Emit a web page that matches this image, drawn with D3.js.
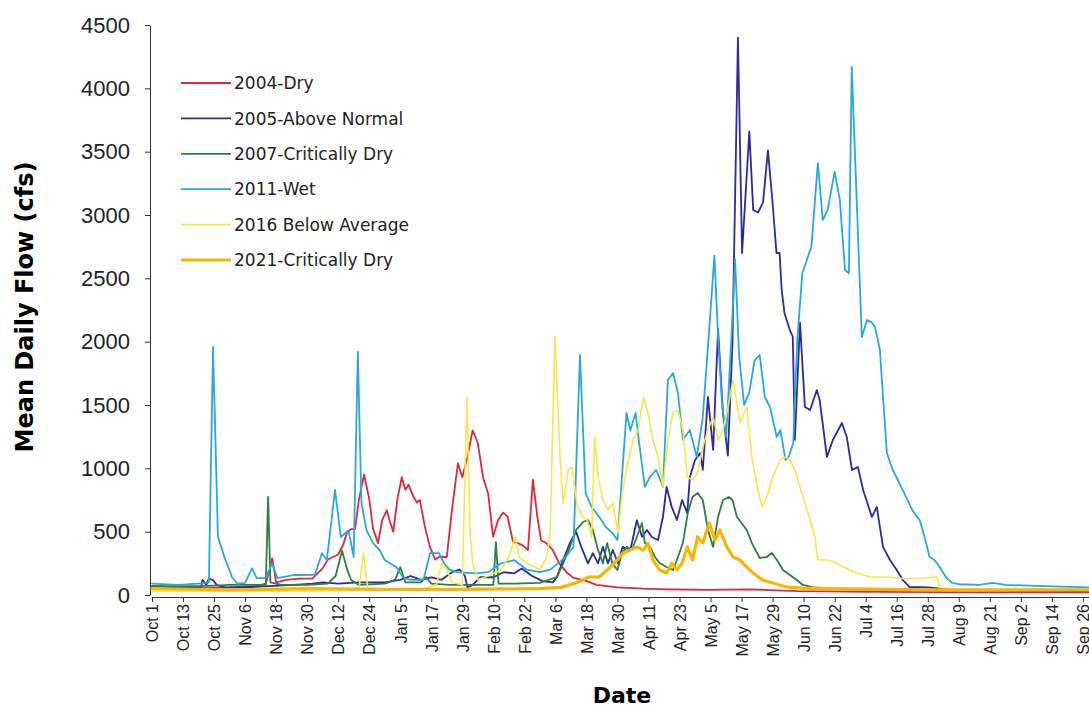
<!DOCTYPE html>
<html>
<head>
<meta charset="utf-8">
<script src="https://cdn.jsdelivr.net/npm/d3@7"></script>
<style>
	body { margin: 0; background: #fff; }
	svg { display: block; font-family: 'DejaVu Sans', sans-serif; }
	.axis path, .axis line { stroke: #333; stroke-width: 1; }
	.axis text { fill: #222; }
	.series { fill: none; stroke-linejoin: round; stroke-linecap: round; }
</style>
</head>
<body>
<div id="chart"></div>
<script>

// [day of water year (Oct 1 = 0), mean daily flow cfs]
const wy2004 = [[0,70],[8,60],[20,55],[30,60],[40,70],[44,90],[45.5,200],[46.5,290],[48,100],[52,120],[57,130],[62,130],[64,170],[66,210],[68,280],[70,300],[72,320],[74,400],[75.5,500],[77,520],[78.5,520],[80,750],[82,950],[84,760],[85.5,520],[87.4,410],[89,590],[90.8,670],[92,580],[93.3,500],[95,770],[96.6,930],[98,830],[99.2,870],[101,780],[102.4,730],[103.6,750],[105.5,540],[107.5,380],[109.5,280],[111,300],[114,300],[116,670],[118.3,1040],[120,930],[122,1090],[124,1300],[126,1200],[128,930],[130,800],[131.9,460],[133.8,590],[135.7,650],[137.5,620],[139.6,420],[141.5,410],[143.5,390],[145.4,355],[147.3,910],[149,620],[150.5,430],[152.5,410],[155,355],[157.5,250],[160.5,175],[163,135],[167,118],[172,80],[180,60],[190,50],[200,45],[215,40],[230,45],[250,30],[280,25],[330,20],[364,20]];

const wy2005 = [[0,70],[10,60],[19,60],[19.5,120],[21,80],[22,130],[23.5,120],[25,80],[28,60],[35,60],[45,70],[55,80],[62,90],[66,100],[72,90],[80,100],[90,100],[96,120],[100,150],[104,120],[108,140],[112,120],[116,180],[119,200],[121,150],[122,60],[124,80],[127,140],[132,140],[136,180],[140,170],[143,210],[147,150],[151,110],[155,100],[156.6,140],[159,276],[161.6,410],[164,500],[166,380],[168.6,250],[170.5,330],[172.5,250],[174.4,380],[176.3,250],[178.2,355],[180.2,250],[182,380],[185,355],[187.5,590],[189.5,460],[191.4,513],[193.3,458],[195.7,434],[197.6,616],[199,853],[201,695],[203,592],[205,750],[207,647],[208,931],[210,1066],[212,1120],[213,987],[215,1563],[217,1145],[218.9,2100],[220.8,1437],[222.7,1100],[224.5,2000],[226.6,4400],[228.2,2700],[231,3660],[232.5,3040],[234.4,3020],[236.3,3100],[238.2,3510],[240,3095],[241.5,2700],[242.7,2700],[243.5,2410],[244.6,2225],[246.7,2090],[247.8,2040],[248.6,1224],[250.6,2150],[252.5,1484],[254.5,1460],[257.1,1618],[258.2,1540],[261,1090],[263.3,1224],[266.8,1358],[268.7,1247],[270.7,987],[273,1010],[275,829],[278.4,616],[280.3,695],[282.7,380],[285.4,276],[288,197],[290.4,118],[293,63],[300,60],[310,40],[364,30]];

const wy2007 = [[0,70],[20,70],[30,80],[44,80],[44.9,774],[45.8,100],[50,80],[60,80],[68,90],[71,150],[73.5,350],[75.5,200],[77,118],[80,80],[90,90],[94,120],[96,220],[98,100],[104,100],[106,142],[108,90],[115,80],[120,80],[132,80],[133,418],[134,90],[140,90],[150,95],[156.6,142],[159,250],[161.6,380],[164,513],[166.7,576],[168.6,592],[170.5,513],[172.5,355],[174.4,250],[176,410],[178,250],[180,197],[181.7,330],[183.6,380],[185.6,355],[187.5,458],[189.5,568],[190.6,410],[192.6,380],[194.5,300],[196.4,250],[199,221],[201.5,197],[203.4,300],[205.3,410],[207.2,647],[209,774],[211,805],[213,750],[215,513],[217,380],[218.9,616],[220.8,750],[223,774],[224.5,750],[226.2,616],[228,568],[230,513],[232,410],[235,292],[237.8,300],[239.7,332],[241.7,276],[244,197],[246.7,158],[249.4,118],[251.7,79],[255.6,60],[270,45],[300,40],[364,35]];

const wy2011 = [[0,90],[10,80],[18,90],[22,100],[23.6,1958],[25.5,460],[28,300],[31,140],[33,90],[36,95],[38.7,210],[40.5,134],[44,134],[46.4,250],[48.5,134],[55,158],[63,160],[65.7,330],[67.6,276],[70.8,830],[73,458],[76,510],[78,300],[79.6,1920],[81,725],[83,510],[85.5,410],[88,355],[90,276],[92,250],[94.5,220],[97,140],[100,120],[105,120],[107.5,330],[111,330],[113,250],[115,200],[118,180],[125,170],[130,180],[135,250],[140,276],[145,200],[150,180],[154,200],[157,250],[160,300],[163,380],[165.5,1895],[167.7,805],[170,695],[173,615],[175.5,537],[178,490],[180,434],[183.5,1437],[185,1300],[187,1437],[188.6,1168],[190.6,853],[192.5,931],[195,987],[197.6,853],[199.5,1697],[201.5,1753],[203.4,1595],[205.3,1224],[208,1303],[210.7,1090],[213,1405],[215.5,2100],[217.5,2680],[219,2000],[220.5,1500],[222,1250],[224,2000],[225.5,2650],[227,1900],[229,1500],[231,1600],[233,1850],[235,1895],[237,1563],[239,1484],[241.6,1247],[243,1303],[245,1066],[246.2,1090],[248,1200],[249.5,2000],[251.5,2540],[255,2750],[257.5,3410],[259.4,2960],[261.3,3040],[264,3340],[266,3120],[268,2566],[269.5,2540],[270.6,4170],[274.5,2037],[276.5,2170],[278.4,2150],[279.6,2115],[281.5,1935],[282.7,1563],[284.2,1120],[286.5,987],[289,884],[291.6,774],[294,670],[296.9,590],[298.8,458],[300.7,300],[302.6,276],[304.6,221],[307,142],[309.4,95],[312,85],[320,80],[325,95],[330,80],[345,70],[364,60]];

const wy2016 = [[0,30],[30,30],[60,30],[80,40],[81.8,330],[83.5,40],[95,40],[105,50],[110,80],[112,250],[114,200],[116,100],[120,80],[121.8,1563],[123,500],[124,250],[126,120],[130,150],[135,200],[138,300],[140.4,460],[142,300],[145,250],[150,200],[152.7,300],[154,513],[155.8,2040],[157.8,1090],[159,726],[161,987],[162.4,1010],[164.5,695],[166.4,616],[168.3,592],[170,458],[171.2,1247],[172.5,931],[174.4,750],[176.3,670],[178.2,726],[180.2,490],[182,829],[184,1040],[186,1224],[188,1303],[190,1563],[191.8,1437],[193.7,1224],[195.7,1090],[197.6,853],[199.5,1224],[201.5,1437],[203.4,1460],[205.3,1303],[207,931],[209,908],[211,963],[213,1168],[215,1303],[217,1405],[219,1224],[220.8,1303],[222.3,1437],[224.7,1697],[227.4,1358],[230,1484],[232,1090],[234,853],[235.9,695],[237.8,774],[240,931],[243,1066],[245,1090],[246.7,1066],[248.6,987],[250.6,853],[252.5,726],[254.5,592],[256.4,458],[257.5,276],[261,276],[265,250],[267.5,221],[272.6,174],[277.5,142],[284,142],[290.5,130],[297,130],[303.5,142],[304.7,60],[310,45],[364,40]];

const wy2021 = [[0,50],[30,40],[60,50],[90,45],[120,45],[150,50],[158,60],[164,95],[169,142],[173,142],[176,197],[180,276],[182,330],[185,355],[187.5,380],[190,355],[191.8,410],[193.7,276],[196.4,197],[199,174],[201,250],[203,197],[205,250],[207,380],[209,276],[211,458],[213,410],[215.5,568],[217.7,434],[219.6,513],[222.3,380],[224.7,300],[227.4,276],[230,221],[232.4,174],[236.2,118],[240,95],[245.5,63],[251.7,55],[260,50],[300,40],[364,40]];

const seriesNames = ['2004-Dry', '2005-Above Normal', '2007-Critically Dry', '2011-Wet', '2016 Below Average', '2021-Critically Dry'];
const seriesColors = ['#e3263f', '#2c2a9c', '#2e7d43', '#2aa8de', '#f6e84c', '#f7b602'];
const seriesWidths = [1.8, 1.8, 1.8, 1.8, 1.6, 3.2];
const seriesData = [wy2004, wy2005, wy2007, wy2011, wy2016, wy2021];

const tickLabels = ['Oct 1','Oct 13','Oct 25','Nov 6','Nov 18','Nov 30','Dec 12','Dec 24','Jan 5','Jan 17','Jan 29','Feb 10','Feb 22','Mar 6','Mar 18','Mar 30','Apr 11','Apr 23','May 5','May 17','May 29','Jun 10','Jun 22','Jul 4','Jul 16','Jul 28','Aug 9','Aug 21','Sep 2','Sep 14','Sep 26'];
const yTicks = [0, 500, 1000, 1500, 2000, 2500, 3000, 3500, 4000, 4500];

const chartW = 1089, chartH = 711;
const plotLeft = 152, plotBottom = 595, plotTop = 25;
const pxPerDay = 31.03 / 12; // tick spacing on the figure, 12 days apart

var svg = d3.select('#chart')
	.append('svg')
	.attr('width', chartW)
	.attr('height', chartH);

var x = d3.scaleLinear()
	.domain([0, 364])
	.range([plotLeft, plotLeft + 364 * pxPerDay]);

var y = d3.scaleLinear()
	.domain([0, 4500])
	.range([plotBottom, plotTop]);

// y axis
var yAxis = svg.append('g')
	.attr('class', 'axis')
	.attr('transform', 'translate(' + (plotLeft - 2) + ',0)')
	.call(d3.axisLeft(y)
		.tickValues(yTicks)
		.tickFormat(d3.format('d'))
		.tickSize(5)
		.tickSizeOuter(0)
		.tickPadding(15));
yAxis.selectAll('text')
	.style('font-size', '22px');

// x axis, ticks every 12 days
var xAxis = svg.append('g')
	.attr('class', 'axis')
	.attr('transform', 'translate(0,' + (plotBottom + 2) + ')')
	.call(d3.axisBottom(x)
		.tickValues(tickLabels.map((t, i) => i * 12))
		.tickFormat((d, i) => tickLabels[i])
		.tickSize(5)
		.tickSizeOuter(0));
xAxis.selectAll('text')
	.attr('transform', 'rotate(-90)')
	.attr('x', -7)
	.attr('y', 0)
	.attr('dy', '0.36em')
	.style('text-anchor', 'end')
	.style('font-size', '16px');

// lines
var line = d3.line()
	.x(d => x(d[0]))
	.y(d => y(d[1]));

svg.append('g')
	.selectAll('path')
	.data(seriesData)
	.join('path')
	.attr('class', 'series')
	.attr('d', line)
	.attr('stroke', (d, i) => seriesColors[i])
	.attr('stroke-width', (d, i) => seriesWidths[i]);

// titles
svg.append('text')
	.attr('x', 622)
	.attr('y', 703)
	.attr('text-anchor', 'middle')
	.style('font-weight', 'bold')
	.style('font-size', '22px')
	.text('Date');

svg.append('text')
	.attr('transform', 'translate(33,' + 307 + ') rotate(-90)')
	.attr('text-anchor', 'middle')
	.style('font-weight', 'bold')
	.style('font-size', '24px')
	.text('Mean Daily Flow (cfs)');

// legend
var legend = svg.append('g')
	.attr('transform', 'translate(181,83)')
	.selectAll('g')
	.data(seriesNames)
	.join('g')
	.attr('transform', (d, i) => 'translate(0,' + (i * 35.4) + ')');

legend.append('line')
	.attr('x1', 0)
	.attr('x2', 50)
	.attr('stroke', (d, i) => seriesColors[i])
	.attr('stroke-width', (d, i) => seriesWidths[i]);

legend.append('text')
	.attr('x', 53)
	.attr('dy', '0.36em')
	.style('font-size', '17px')
	.style('fill', '#222')
	.text(d => d);

</script>
</body>
</html>
